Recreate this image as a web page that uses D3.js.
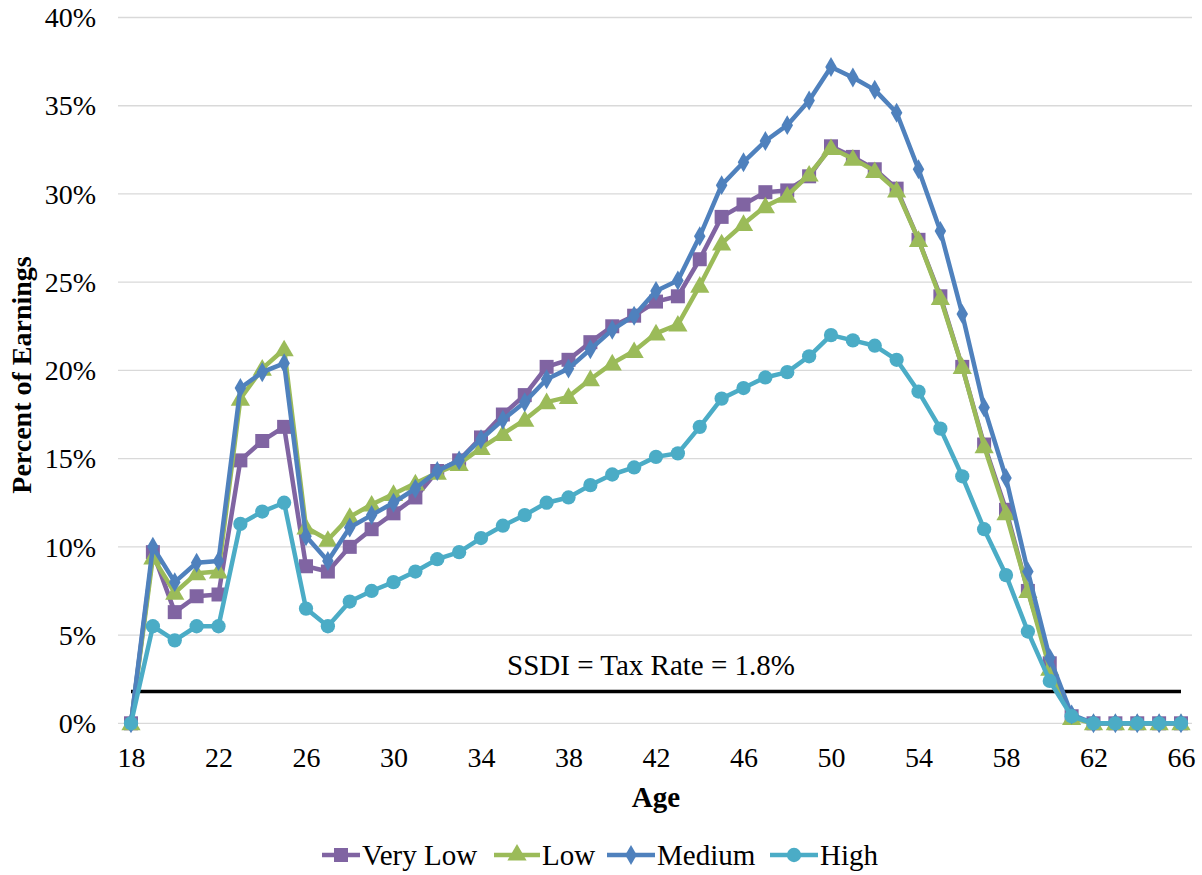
<!DOCTYPE html>
<html>
<head>
<meta charset="utf-8">
<script src="https://cdnjs.cloudflare.com/ajax/libs/d3/7.8.5/d3.min.js"></script>
<style>
  html, body { margin: 0; padding: 0; background: #fff; }
  svg { display: block; }
  svg text { font-family: "Liberation Serif", "Times New Roman", Times, serif !important; fill: #000; }
</style>
</head>
<body>
<svg id="chart" width="1202" height="875"></svg>
<script>
const ages = d3.range(18, 67);
const yTicks = [0, 5, 10, 15, 20, 25, 30, 35, 40];
const xTickLabels = [18, 22, 26, 30, 34, 38, 42, 46, 50, 54, 58, 62, 66];
const seriesNames = ["Very Low", "Low", "Medium", "High"];
const veryLow = [0, 9.7, 6.3, 7.2, 7.3, 14.9, 16.0, 16.8, 8.9, 8.6, 10.0, 11.0, 11.9, 12.8, 14.3, 14.9, 16.2, 17.5, 18.6, 20.2, 20.6, 21.6, 22.5, 23.1, 23.9, 24.2, 26.3, 28.7, 29.4, 30.1, 30.2, 31.0, 32.7, 32.1, 31.4, 30.3, 27.4, 24.2, 20.2, 15.8, 12.1, 7.5, 3.4, 0.4, 0, 0, 0, 0, 0];
const low = [0, 9.4, 7.4, 8.5, 8.6, 18.4, 20.1, 21.2, 11.1, 10.4, 11.7, 12.4, 13.0, 13.6, 14.2, 14.7, 15.6, 16.4, 17.2, 18.2, 18.5, 19.5, 20.4, 21.1, 22.1, 22.6, 24.8, 27.2, 28.3, 29.3, 29.9, 31.1, 32.6, 32.0, 31.3, 30.2, 27.4, 24.1, 20.2, 15.7, 11.9, 7.5, 3.1, 0.3, 0, 0, 0, 0, 0];
const medium = [0, 10.0, 8.0, 9.1, 9.2, 19.0, 19.9, 20.4, 10.6, 9.2, 11.1, 11.8, 12.5, 13.3, 14.3, 14.9, 16.1, 17.2, 18.2, 19.5, 20.1, 21.2, 22.3, 23.1, 24.5, 25.1, 27.6, 30.5, 31.8, 33.0, 33.9, 35.3, 37.2, 36.6, 35.9, 34.6, 31.4, 27.9, 23.2, 17.9, 13.9, 8.6, 3.7, 0.5, 0, 0, 0, 0, 0];
const high = [0, 5.5, 4.7, 5.5, 5.5, 11.3, 12.0, 12.5, 6.5, 5.5, 6.9, 7.5, 8.0, 8.6, 9.3, 9.7, 10.5, 11.2, 11.8, 12.5, 12.8, 13.5, 14.1, 14.5, 15.1, 15.3, 16.8, 18.4, 19.0, 19.6, 19.9, 20.8, 22.0, 21.7, 21.4, 20.6, 18.8, 16.7, 14.0, 11.0, 8.4, 5.2, 2.4, 0.4, 0, 0, 0, 0, 0];
const ssdiRate = 1.8;
const ssdiLabel = "SSDI = Tax Rate = 1.8%";

const colors = ["#8064A2", "#9BBB59", "#4F81BD", "#4BACC6"];
const symbols = [d3.symbolSquare, d3.symbolTriangle, d3.symbolDiamond, d3.symbolCircle];
const symSizes = [196, 160, 115, 160];
const allSeries = [veryLow, low, medium, high];

const svg = d3.select("#chart");
const x = d3.scalePoint().domain(ages).range([131, 1181]);
const y = d3.scaleLinear().domain([0, 40]).range([723.3, 17.5]);
const gridLeft = 118, gridRight = 1192;

// gridlines
svg.append("g").selectAll("line").data(yTicks).join("line")
  .attr("x1", gridLeft).attr("x2", gridRight)
  .attr("y1", d => y(d)).attr("y2", d => y(d))
  .attr("stroke", "#d9d9d9").attr("stroke-width", 1.3);

// y axis labels
const yAxis = d3.axisLeft(y).tickValues(yTicks).tickFormat(d => d + "%").tickSize(0).tickPadding(0);
const yg = svg.append("g").attr("transform", `translate(96,0)`).call(yAxis);
yg.select(".domain").remove();
yg.selectAll("text").attr("font-size", 28).attr("dy", "0.33em");

// x axis labels
const xAxis = d3.axisBottom(x).tickValues(xTickLabels).tickSize(0).tickPadding(0);
const xg = svg.append("g").attr("transform", `translate(0,747)`).call(xAxis);
xg.select(".domain").remove();
xg.selectAll("text").attr("font-size", 28).attr("dy", "0.71em");

// SSDI line
svg.append("line")
  .attr("x1", x(18)).attr("x2", x(66))
  .attr("y1", y(ssdiRate)).attr("y2", y(ssdiRate))
  .attr("stroke", "#000").attr("stroke-width", 3.5);
svg.append("text").attr("x", 651).attr("y", 675).attr("text-anchor", "middle")
  .attr("font-size", 29).text(ssdiLabel);

// series
const line = d3.line().x((d, i) => x(ages[i])).y(d => y(d));
allSeries.forEach((s, k) => {
  const g = svg.append("g");
  g.append("path").datum(s).attr("d", line)
    .attr("fill", "none").attr("stroke", colors[k]).attr("stroke-width", 4.5)
    .attr("stroke-linejoin", "round");
  g.selectAll("path.m").data(s).join("path").attr("class", "m")
    .attr("transform", (d, i) => `translate(${x(ages[i])},${y(d) + (k === 1 ? 1.5 : 0)})`)
    .attr("d", d3.symbol().type(symbols[k]).size(symSizes[k]))
    .attr("fill", colors[k]);
});

// axis titles
svg.append("text").attr("x", 656).attr("y", 807).attr("text-anchor", "middle")
  .attr("font-size", 29).attr("font-weight", "bold").text("Age");
svg.append("text").attr("transform", "translate(31,375) rotate(-90)").attr("text-anchor", "middle")
  .attr("font-size", 28).attr("font-weight", "bold").text("Percent of Earnings");

// legend
const legendItems = [
  { name: seriesNames[0], lx: 322, tx: 362 },
  { name: seriesNames[1], lx: 494, tx: 542 },
  { name: seriesNames[2], lx: 607, tx: 657 },
  { name: seriesNames[3], lx: 770, tx: 820 }
];
const lg = svg.append("g");
legendItems.forEach((it, k) => {
  const ly = 855;
  lg.append("line").attr("x1", it.lx).attr("x2", it.tx - 2).attr("y1", ly).attr("y2", ly)
    .attr("stroke", colors[k]).attr("stroke-width", 4.5);
  lg.append("path").attr("transform", `translate(${(it.lx + it.tx - 2) / 2},${ly})`)
    .attr("d", d3.symbol().type(symbols[k]).size(symSizes[k])).attr("fill", colors[k]);
  lg.append("text").attr("x", it.tx).attr("y", ly + 10).attr("font-size", 29).text(it.name);
});
</script>
</body>
</html>
